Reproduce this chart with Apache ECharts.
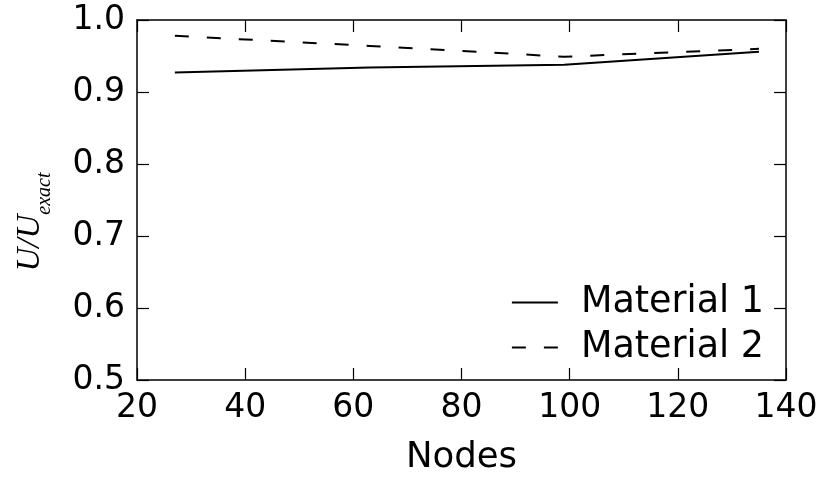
<!DOCTYPE html>
<html>
<head>
<meta charset="utf-8">
<script src="https://cdn.jsdelivr.net/npm/echarts@6/dist/echarts.min.js"></script>
<style>
  html, body { margin: 0; padding: 0; background: #fff; }
  #chart { width: 824px; height: 477px; }
</style>
</head>
<body>
<div id="chart"></div>
<script>
// Node counts of the meshes
const nodes = [27, 63, 99, 135];
// Normalised displacement U/U_exact per material
const material1 = [0.927, 0.934, 0.938, 0.956];
const material2 = [0.978, 0.964, 0.949, 0.960];
const seriesNames = ['Material 1', 'Material 2'];

const FONT = 'DejaVu Sans';
const chart = echarts.init(document.getElementById('chart'));

const pairs = (xs, ys) => xs.map((x, i) => [x, ys[i]]);

const tickStyle = { show: true, inside: true, length: 12, lineStyle: { color: '#000', width: 1.2 } };
const lineAxis = { show: true, onZero: false, lineStyle: { color: '#000', width: 1.5 } };

chart.setOption({
  animation: false,
  backgroundColor: '#fff',
  grid: { left: 137, right: 38, top: 20, bottom: 97, containLabel: false, outerBoundsMode: 'none' },
  legend: {
    orient: 'vertical',
    right: 55,
    top: 279,
    itemWidth: 46,
    itemHeight: 14,
    itemGap: 8,
    itemStyle: { opacity: 0 },
    textStyle: { fontFamily: FONT, fontSize: 36.5, color: '#000', padding: [0, 0, 0, 18], lineHeight: 34 },
    data: seriesNames
  },
  xAxis: [
    {
      type: 'value', min: 20, max: 140, interval: 20,
      name: 'Nodes', nameLocation: 'middle', nameGap: 60,
      nameTextStyle: { fontFamily: FONT, fontSize: 35.5, color: '#000' },
      axisLine: lineAxis, axisTick: tickStyle,
      axisLabel: { fontFamily: FONT, fontSize: 33, color: '#000', margin: 12 },
      splitLine: { show: false }
    },
    {
      type: 'value', min: 20, max: 140, interval: 20, position: 'top',
      axisLine: lineAxis, axisTick: tickStyle, axisLabel: { show: false }, splitLine: { show: false }
    }
  ],
  yAxis: [
    {
      type: 'value', min: 0.5, max: 1.0, interval: 0.1,
      name: '{u|U/U}{s|exact}', nameLocation: 'middle', nameGap: 90, nameRotate: 90,
      nameTextStyle: {
        padding: [0, 44, 0, 0],
        rich: {
          u: { fontFamily: 'Liberation Serif', fontStyle: 'italic', fontSize: 33, color: '#000', lineHeight: 34, verticalAlign: 'bottom' },
          s: { fontFamily: 'Liberation Serif', fontStyle: 'italic', fontSize: 20, color: '#000', lineHeight: 20, verticalAlign: 'bottom', padding: [0, 0, -8, 0] }
        }
      },
      axisLine: lineAxis, axisTick: tickStyle,
      axisLabel: { fontFamily: FONT, fontSize: 33, color: '#000', margin: 12, padding: [4, 0, 0, 0], formatter: v => v.toFixed(1) },
      splitLine: { show: false }
    },
    {
      type: 'value', min: 0.5, max: 1.0, interval: 0.1, position: 'right',
      axisLine: lineAxis, axisTick: tickStyle, axisLabel: { show: false }, splitLine: { show: false }
    }
  ],
  series: [
    {
      name: seriesNames[0], type: 'line', data: pairs(nodes, material1),
      symbol: 'none', lineStyle: { color: '#000', width: 2, type: 'solid' }, itemStyle: { color: '#000' }
    },
    {
      name: seriesNames[1], type: 'line', data: pairs(nodes, material2),
      symbol: 'none', lineStyle: { color: '#000', width: 2, type: [14, 18] }, itemStyle: { color: '#000' }
    }
  ]
});
</script>
</body>
</html>
